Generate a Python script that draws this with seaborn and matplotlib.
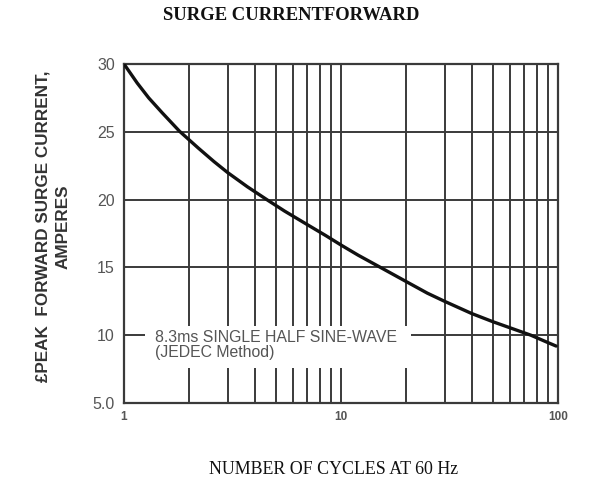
import matplotlib
matplotlib.use('Agg')
import matplotlib.pyplot as plt
import matplotlib.ticker as ticker
from matplotlib.patches import Rectangle
import numpy as np
import pandas as pd
import seaborn as sns

# curve
cycles = [1, 1.15, 1.3, 1.5, 1.8, 2.2, 2.6, 3, 3.7, 4.6, 5.5, 7, 8.5, 10,
          12, 15, 20, 25, 30, 40, 50, 60, 75, 90, 98]
current = [30, 28.6, 27.5, 26.4, 25.05, 23.8, 22.8, 22.0, 20.95, 19.95, 19.15,
           18.15, 17.35, 16.65, 15.9, 15.05, 13.95, 13.1, 12.5, 11.6, 11.0,
           10.55, 10.0, 9.45, 9.2]

y_ticks = [5, 10, 15, 20, 25, 30]
y_labels = ['5.0', '10', '15', '20', '25', '30']
x_ticks = [1, 10, 100]
x_labels = ['1', '10', '100']

df = pd.DataFrame({'cycles': cycles, 'current': current})

sns.set_style('white')
plt.rcParams['font.family'] = ['Liberation Sans', 'DejaVu Sans']

fig = plt.figure(figsize=(5.91, 4.82), dpi=100)
ax = fig.add_axes([124 / 591, 1 - 403 / 482, 434 / 591, 339 / 482])

ax.set_xscale('log')
ax.set_xlim(1, 100)
ax.set_ylim(5, 30)

sns.lineplot(data=df, x='cycles', y='current', ax=ax, color='#111111',
             linewidth=2.4, zorder=3)

ax.set_axisbelow(True)
ax.xaxis.set_minor_locator(ticker.LogLocator(base=10, subs=np.arange(2, 10)))
ax.xaxis.set_minor_formatter(ticker.NullFormatter())
ax.set_xticks(x_ticks, labels=x_labels)
ax.set_yticks(y_ticks, labels=y_labels)
ax.grid(which='both', axis='x', color='#3a3a3a', linewidth=1.4)
ax.grid(which='major', axis='y', color='#3a3a3a', linewidth=1.4)

ax.tick_params(axis='both', which='both', length=0)
ax.tick_params(axis='y', pad=6.5, labelsize=11.5, labelcolor='#555555')
ax.tick_params(axis='x', pad=5.5, labelsize=8.5, labelcolor='#555555')
for lab in ax.get_xticklabels():
    lab.set_fontweight('bold')

for s in ax.spines.values():
    s.set_color('#3a3a3a')
    s.set_linewidth(1.6)

# white box breaking the grid behind the note
ax.add_patch(Rectangle((0.048, 0.103), 0.613, 0.124, transform=ax.transAxes,
                       facecolor='white', edgecolor='none', zorder=1))
ax.text(0.071, 0.214, '8.3ms SINGLE HALF SINE-WAVE\n(JEDEC Method)',
        transform=ax.transAxes, ha='left', va='top', fontsize=11.4,
        color='#555555', linespacing=1.0, zorder=2)

ax.set_xlabel('')
ax.set_ylabel('£PEAK  FORWARD SURGE CURRENT,\nAMPERES', fontsize=12.3,
              fontweight='bold', color='#333333', linespacing=1.45)
ax.yaxis.set_label_coords(-0.122, 0.52)

fig.text(334 / 591, 1 - 470 / 482, 'NUMBER OF CYCLES AT 60 Hz',
         family='Liberation Serif', fontsize=12.9, ha='center', va='center',
         color='#111111')
fig.text(291 / 591, 1 - 15 / 482, 'SURGE CURRENTFORWARD',
         family='Liberation Serif', fontweight='bold', fontsize=13.4,
         ha='center', va='center', color='#111111')

fig.savefig('out.png', dpi=100)
